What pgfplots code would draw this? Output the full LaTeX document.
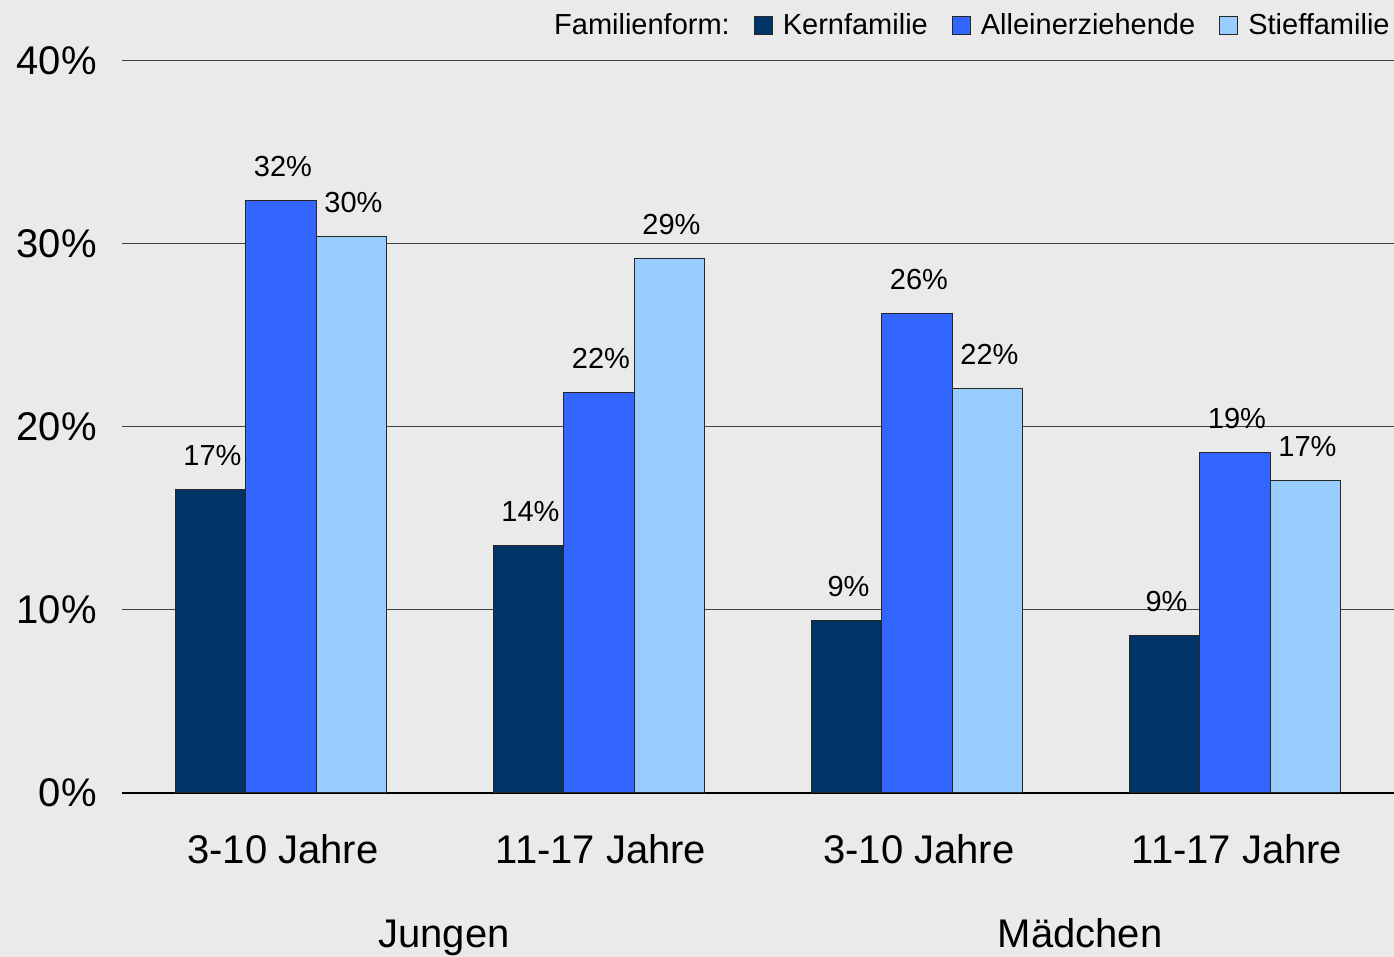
\documentclass[border=0pt]{standalone}
\usepackage{pgfplots}
\pgfplotsset{compat=1.18}
\usepackage{fontspec}
\setmainfont{Liberation Sans}
\definecolor{bg}{HTML}{EAEAEA}
\definecolor{kern}{HTML}{003366}
\definecolor{allein}{HTML}{3366FF}
\definecolor{stief}{HTML}{99CCFF}
\definecolor{gridc}{HTML}{404040}

\begin{document}
\begin{tikzpicture}
\fill[bg] (0,0) rectangle (697pt,478.5pt);
\useasboundingbox (0,0) rectangle (697pt,478.5pt);
\begin{axis}[
    at={(61pt,82pt)}, anchor=south west,
    scale only axis, width=636pt, height=366pt,
    xmin=-0.5, xmax=3.5, ymin=0, ymax=40,
    clip=false,
    axis line style={draw=none},
    major tick length=0pt,
    ytick={0,10,20,30,40},
    yticklabel={\pgfmathprintnumber{\tick}\%},
    yticklabel style={inner sep=0pt, anchor=east, xshift=-12.5pt},
    xtick={0,1,2,3},
    xticklabels={3-10 Jahre, 11-17 Jahre, 3-10 Jahre, 11-17 Jahre},
    xticklabel style={inner sep=0pt, anchor=base, yshift=-35.5pt, xshift=1pt},
    ticklabel style={font=\fontsize{20}{24}\selectfont},
    /pgf/number format/assume math mode=true,
    ymajorgrids,
    major grid style={gridc, line width=0.5pt},
    extra y ticks={0},
    extra y tick labels={},
    extra y tick style={major grid style={black, line width=0.6pt}},
    ybar, bar width=0.2217,
    every axis plot/.append style={draw=black!85, line width=0.5pt},
    nodes near coords={\pgfmathprintnumber[fixed,precision=0]{\pgfplotspointmeta}\%},
    every node near coord/.append style={font=\fontsize{14.5}{17}\selectfont, anchor=base, yshift=12pt, xshift=1pt, text=black},
    legend columns=-1,
    legend image code/.code={\draw[#1, draw=black!85] (0pt,-4.5pt) rectangle (9pt,4.5pt);},
    legend style={at={(rel axis cs:1,1)}, anchor=east, xshift=-2pt, yshift=17.5pt,
        draw=none, fill=none, inner sep=0pt,
        nodes={inner sep=0pt},
        font=\fontsize{14.5}{17}\selectfont,
        /tikz/every even column/.append style={column sep=12pt},
        /tikz/every odd column/.append style={column sep=5pt}},
]
\addlegendimage{empty legend}
\addlegendentry{Familienform:}

\addplot[fill=kern, bar shift=-0.2217] coordinates {(0,16.6) (1,13.5) (2,9.4) (3,8.6)};
\addlegendentry{Kernfamilie}
\addplot[fill=allein, bar shift=0] coordinates {(0,32.4) (1,21.9) (2,26.2) (3,18.6)};
\addlegendentry{Alleinerziehende}
\addplot[fill=stief, bar shift=0.2217] coordinates {(0,30.4) (1,29.2) (2,22.1) (3,17.1)};
\addlegendentry{Stieffamilie}

\node[font=\fontsize{20}{24}\selectfont, anchor=base] at (axis cs:0.5,0) [yshift=-77.5pt, xshift=2pt] {Jungen};
\node[font=\fontsize{20}{24}\selectfont, anchor=base] at (axis cs:2.5,0) [yshift=-77.5pt, xshift=2pt] {Mädchen};
\end{axis}
\end{tikzpicture}
\end{document}
